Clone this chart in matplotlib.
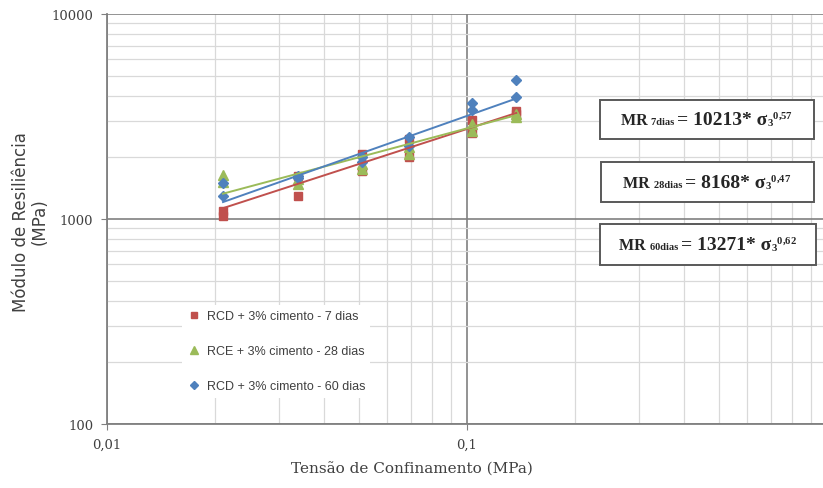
import numpy as np
import matplotlib
matplotlib.use("Agg")
import matplotlib.pyplot as plt
import matplotlib.ticker as ticker
from matplotlib.patches import Rectangle
from matplotlib.offsetbox import TextArea, HPacker, AnnotationBbox

# data
sigma3 = [0.021, 0.021, 0.034, 0.034, 0.051, 0.051, 0.069, 0.069, 0.103, 0.103, 0.137, 0.137]
mr_7 = [1100, 1040, 1290, 1620, 1720, 2080, 2000, 2450, 2620, 3050, 3250, 3380]
mr_28 = [1520, 1640, 1480, 1560, 1750, 1850, 2080, 2250, 2700, 2900, 3150, 3250]
mr_60 = [1300, 1500, 1580, 1620, 1900, 2000, 2280, 2500, 3400, 3700, 3950, 4750]

labels = ['RCD + 3% cimento - 7 dias', 'RCE + 3% cimento - 28 dias', 'RCD + 3% cimento - 60 dias']
fit_k = [10213, 8168, 13271]
fit_n = [0.57, 0.47, 0.62]
eq_ages = ['7dias', '28dias', '60dias']

x_ticks = [0.01, 0.1, 1]
x_ticklabels = ['0,01', '0,1', '1']
y_ticks = [100, 1000, 10000]
y_ticklabels = ['100', '1000', '10000']

colors = ['#C0504D', '#9BBB59', '#4F81BD']
markers = ['s', '^', 'D']
msizes = [6, 7, 5.5]

plt.rcParams['mathtext.fontset'] = 'custom'
plt.rcParams['mathtext.rm'] = 'Liberation Serif:bold'
plt.rcParams['mathtext.it'] = 'Liberation Serif:bold'
plt.rcParams['mathtext.bf'] = 'Liberation Serif:bold'

W, H = 823, 489
fig = plt.figure(figsize=(W / 100, H / 100), dpi=100)


def fx(px):
    return px / W


def fy(py):
    return 1 - py / H


# axes box in pixels: left 107, right 827 (cut off like the original), top 15, bottom 425
ax = fig.add_axes([fx(107), fy(425), fx(827 - 107), (425 - 15) / H])
ax.set_xscale('log')
ax.set_yscale('log')
ax.set_xlim(0.01, 1)
ax.set_ylim(100, 10000)

ax.grid(which='minor', color='#d9d9d9', linewidth=0.9)
ax.grid(which='major', color='#808080', linewidth=1.2)
ax.set_axisbelow(True)

ax.xaxis.set_major_locator(ticker.FixedLocator(x_ticks))
ax.xaxis.set_major_formatter(ticker.FixedFormatter(x_ticklabels))
ax.yaxis.set_major_locator(ticker.FixedLocator(y_ticks))
ax.yaxis.set_major_formatter(ticker.FixedFormatter(y_ticklabels))
ax.xaxis.set_minor_formatter(ticker.NullFormatter())
ax.yaxis.set_minor_formatter(ticker.NullFormatter())
ax.tick_params(which='minor', length=0)
ax.tick_params(which='major', length=4, color='#808080', labelsize=9.5, pad=6)
for lab in ax.get_xticklabels() + ax.get_yticklabels():
    lab.set_fontfamily('DejaVu Serif')
    lab.set_color('#404040')

for side in ['top', 'right']:
    ax.spines[side].set_visible(False)
for side in ['left', 'bottom']:
    ax.spines[side].set_color('#808080')
    ax.spines[side].set_linewidth(1.3)

series = [mr_7, mr_28, mr_60]
for vals, c, m, ms, lab in zip(series, colors, markers, msizes, labels):
    ax.plot(sigma3, vals, linestyle='none', marker=m, markersize=ms,
            color=c, label=lab, zorder=2.5)

# power-law trendlines from the fitted coefficients
xs = np.array([min(sigma3), max(sigma3)])
for k, n, c in zip(fit_k, fit_n, colors):
    ax.plot(xs, k * xs ** n, color=c, linewidth=1.4, zorder=3)

leg = ax.legend(loc='upper left', bbox_to_anchor=(fx(176), fy(300)),
                bbox_transform=fig.transFigure, frameon=True, facecolor='white',
                edgecolor='none', framealpha=1, labelspacing=1.85,
                handlelength=1.0, handletextpad=0.55, markerscale=0.8,
                prop={'family': 'Liberation Sans', 'size': 9})
for t in leg.get_texts():
    t.set_color('#404040')

# equation boxes
boxes = [(600, 101, 214, 39), (601, 163, 213, 40), (600, 225, 216, 41)]
for (bx, by, bw, bh), age, k, n in zip(boxes, eq_ages, fit_k, fit_n):
    fig.patches.append(Rectangle((fx(bx), fy(by + bh)), fx(bw), bh / H,
                                 transform=fig.transFigure, facecolor='white',
                                 edgecolor='#595959', linewidth=1.4, zorder=5))
    expo = ('%.2f' % n).replace('.', '{,}')
    parts = [
        TextArea('MR ', textprops=dict(family='Liberation Serif', weight='bold', size=11.5, color='#262626')),
        TextArea(age + ' ', textprops=dict(family='Liberation Serif', weight='bold', size=7.5, color='#262626')),
        TextArea('= %d* σ' % k, textprops=dict(family='Liberation Serif', weight='bold', size=14, color='#262626')),
        TextArea(r'$_3{}^{%s}$' % expo, textprops=dict(size=11, color='#262626')),
    ]
    pack = HPacker(children=parts, align='baseline', pad=0, sep=0)
    ab = AnnotationBbox(pack, (fx(bx + bw / 2), fy(by + bh / 2)), xycoords='figure fraction',
                        frameon=False, box_alignment=(0.5, 0.5), zorder=6)
    fig.add_artist(ab)

fig.text(fx(30), fy(222), 'Módulo de Resiliência\n(MPa)', rotation=90, ha='center', va='center',
         multialignment='center', fontsize=12, family='DejaVu Sans', color='#404040',
         linespacing=1.05)
fig.text(fx(412), fy(470), 'Tensão de Confinamento (MPa)', ha='center', va='center',
         fontsize=11, family='DejaVu Serif', color='#404040')

fig.savefig('out.png', dpi=100)
